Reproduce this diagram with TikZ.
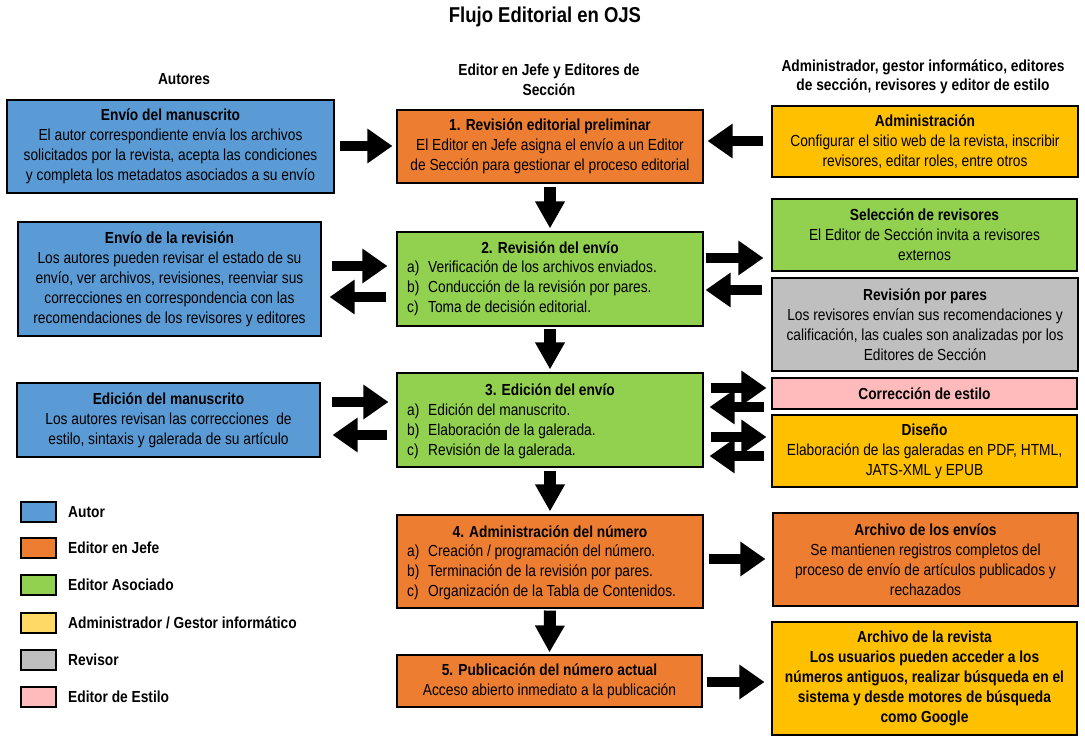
\documentclass[tikz,border=0pt]{standalone}
\usepackage{fontspec}
\setmainfont{Liberation Sans}[FakeStretch=0.86]
\usetikzlibrary{arrows.meta}
\definecolor{cblue}{HTML}{5B9BD5}
\definecolor{corange}{HTML}{ED7D31}
\definecolor{cgreen}{HTML}{92D050}
\definecolor{cyellow}{HTML}{FFC000}
\definecolor{clyellow}{HTML}{FFD966}
\definecolor{cgray}{HTML}{BFBFBF}
\definecolor{cpink}{HTML}{FFBBBB}
\newcommand\litem[1]{\makebox[21pt][l]{#1}}
\begin{document}
\begin{tikzpicture}[x=1pt,y=-1pt,
  font=\fontsize{16}{20}\selectfont,
  box/.style={draw=black, line width=1.1pt, align=center, inner sep=0pt, text=black},
  hdr/.style={font=\bfseries\fontsize{16}{19.5}\selectfont, align=center, inner sep=0pt},
  ttl/.style={font=\bfseries\fontsize{16}{20}\selectfont, inner sep=0pt},
  lst/.style={anchor=west, align=left, inner sep=0pt},
  legbox/.style={draw=black, line width=1.8pt, minimum width=35pt, minimum height=20pt, inner sep=0pt},
  legtxt/.style={anchor=west, font=\bfseries\fontsize{16}{20}\selectfont, inner sep=0pt},
  harrow/.style={line width=10pt, -{Triangle[width=33pt,length=25pt]}},
  varrow/.style={line width=12pt, -{Triangle[width=28pt,length=27pt]}}]
\useasboundingbox (0,0) rectangle (1085,743);

% title and headers
\node[font=\bfseries\fontsize{21.5}{24}\selectfont, inner sep=0pt] (title) at (545,17) {Flujo Editorial en OJS};
\node[hdr] (hA) at (184,79) {Autores};
\node[hdr] (hE) at (549,80) {Editor en Jefe y Editores de\\Sección};
\node[hdr] (hR) at (923,77) {Administrador, gestor informático, editores\\de sección, revisores y editor de estilo};

% left column (authors)
\node[box, fill=cblue, minimum width=327pt, minimum height=93pt] (b1) at (170.5,146.5)
  {\textbf{Envío del manuscrito}\\El autor correspondiente envía los archivos\\solicitados por la revista, acepta las condiciones\\y completa los metadatos asociados a su envío};
\node[box, fill=cblue, minimum width=303pt, minimum height=114pt] (b2) at (169.5,279)
  {\textbf{Envío de la revisión}\\Los autores pueden revisar el estado de su\\envío, ver archivos, revisiones, reenviar sus\\correcciones en correspondencia con las\\recomendaciones de los revisores y editores};
\node[box, fill=cblue, minimum width=303pt, minimum height=74pt] (b3) at (168.5,420)
  {\textbf{Edición del manuscrito}\\Los autores revisan las correcciones\ \ de\\estilo, sintaxis y galerada de su artículo};

% middle column
\node[box, fill=corange, minimum width=306pt, minimum height=73pt] (m1) at (550,146.5)
  {\textbf{1. Revisión editorial preliminar}\\El Editor en Jefe asigna el envío a un Editor\\de Sección para gestionar el proceso editorial};
\node[box, fill=cgreen, minimum width=306pt, minimum height=94pt] (m2) at (550,279) {};
\node[ttl] (m2t) at (550,248) {2. Revisión del envío};
\node[lst] (m2l) at (407,288.5) {\litem{a)}Verificación de los archivos enviados.\\\litem{b)}Conducción de la revisión por pares.\\\litem{c)}Toma de decisión editorial.};
\node[box, fill=cgreen, minimum width=306pt, minimum height=94pt] (m3) at (550,420) {};
\node[ttl] (m3t) at (550,390) {3. Edición del envío};
\node[lst] (m3l) at (407,431) {\litem{a)}Edición del manuscrito.\\\litem{b)}Elaboración de la galerada.\\\litem{c)}Revisión de la galerada.};
\node[box, fill=corange, minimum width=306pt, minimum height=93pt] (m4) at (550,561.5) {};
\node[ttl] (m4t) at (550,532) {4. Administración del número};
\node[lst] (m4l) at (407,572) {\litem{a)}Creación / programación del número.\\\litem{b)}Terminación de la revisión por pares.\\\litem{c)}Organización de la Tabla de Contenidos.};
\node[box, fill=corange, minimum width=305pt, minimum height=52pt] (m5) at (549.5,681)
  {\textbf{5. Publicación del número actual}\\Acceso abierto inmediato a la publicación};

% right column
\node[box, fill=cyellow, minimum width=306pt, minimum height=71pt] (r1) at (925,141.5)
  {\textbf{Administración}\\Configurar el sitio web de la revista, inscribir\\revisores, editar roles, entre otros};
\node[box, fill=cgreen, minimum width=305pt, minimum height=72pt] (r2) at (924.5,235)
  {\textbf{Selección de revisores}\\El Editor de Sección invita a revisores\\externos};
\node[box, fill=cgray, minimum width=306pt, minimum height=93pt] (r3) at (925,324.5)
  {\textbf{Revisión por pares}\\Los revisores envían sus recomendaciones y\\calificación, las cuales son analizadas por los\\Editores de Sección};
\node[box, fill=cpink, minimum width=305pt, minimum height=31pt] (r4) at (924.5,393.5)
  {\textbf{Corrección de estilo}};
\node[box, fill=cyellow, minimum width=305pt, minimum height=72pt] (r5) at (924.5,451)
  {\textbf{Diseño}\\Elaboración de las galeradas en PDF, HTML,\\JATS-XML y EPUB};
\node[box, fill=corange, minimum width=305pt, minimum height=93pt] (r6) at (925.5,559.5)
  {\textbf{Archivo de los envíos}\\Se mantienen registros completos del\\proceso de envío de artículos publicados y\\rechazados};
\node[box, fill=cyellow, minimum width=305pt, minimum height=113pt, font=\bfseries\fontsize{16}{20}\selectfont] (r7) at (924.5,678.5)
  {Archivo de la revista\\Los usuarios pueden acceder a los\\números antiguos, realizar búsqueda en el\\sistema y desde motores de búsqueda\\como Google};

% legend
\node[legbox, fill=cblue] (l1) at (38.5,512) {};
\node[legtxt] (l1t) at (68,512) {Autor};
\node[legbox, fill=corange] (l2) at (38.5,548) {};
\node[legtxt] (l2t) at (68,548) {Editor en Jefe};
\node[legbox, fill=cgreen] (l3) at (38.5,585) {};
\node[legtxt] (l3t) at (68,585) {Editor Asociado};
\node[legbox, fill=clyellow] (l4) at (38.5,623) {};
\node[legtxt] (l4t) at (68,623) {Administrador / Gestor informático};
\node[legbox, fill=cgray] (l5) at (38.5,660) {};
\node[legtxt] (l5t) at (68,660) {Revisor};
\node[legbox, fill=cpink] (l6) at (38.5,697) {};
\node[legtxt] (l6t) at (68,697) {Editor de Estilo};

% vertical arrows
\draw[varrow, shorten <=3pt, shorten >=3pt] (m1.south) -- (m2.north);
\draw[varrow, shorten <=2pt, shorten >=3pt] (m2.south) -- (m3.north);
\draw[varrow, shorten <=3pt, shorten >=3pt] (m3.south) -- (m4.north);
\draw[varrow, shorten <=2pt, shorten >=2pt] (m4.south) -- (m5.north);

% horizontal arrows
\draw[harrow, shorten <=5pt, shorten >=4pt] (b1.east |- 0,146) -- (m1.west |- 0,146);
\draw[harrow, shorten <=8pt, shorten >=4pt] (r1.west |- 0,141) -- (m1.east |- 0,141);
\draw[harrow, shorten <=10pt, shorten >=9pt] (b2.east |- 0,266) -- (m2.west |- 0,266);
\draw[harrow, shorten <=10pt, shorten >=8pt] (m2.west |- 0,297) -- (b2.east |- 0,297);
\draw[harrow, shorten <=2pt, shorten >=8pt] (m2.east |- 0,258) -- (r2.west |- 0,258);
\draw[harrow, shorten <=9pt, shorten >=2pt] (r3.west |- 0,290) -- (m2.east |- 0,290);
\draw[harrow, shorten <=11pt, shorten >=8pt] (b3.east |- 0,402) -- (m3.west |- 0,402);
\draw[harrow, shorten <=9pt, shorten >=12pt] (m3.west |- 0,435) -- (b3.east |- 0,435);
\draw[harrow, shorten <=7pt, shorten >=5pt] (m3.east |- 0,388) -- (r4.west |- 0,388);
\draw[harrow, shorten <=7pt, shorten >=6pt] (r4.west |- 0,407) -- (m3.east |- 0,407);
\draw[harrow, shorten <=7pt, shorten >=5pt] (m3.east |- 0,437) -- (r5.west |- 0,437);
\draw[harrow, shorten <=7pt, shorten >=6pt] (r5.west |- 0,456) -- (m3.east |- 0,456);
\draw[harrow, shorten <=5pt, shorten >=7pt] (m4.east |- 0,559) -- (r6.west |- 0,559);
\draw[harrow, shorten <=4pt, shorten >=7pt] (m5.east |- 0,682) -- (r7.west |- 0,682);
\end{tikzpicture}
\end{document}
